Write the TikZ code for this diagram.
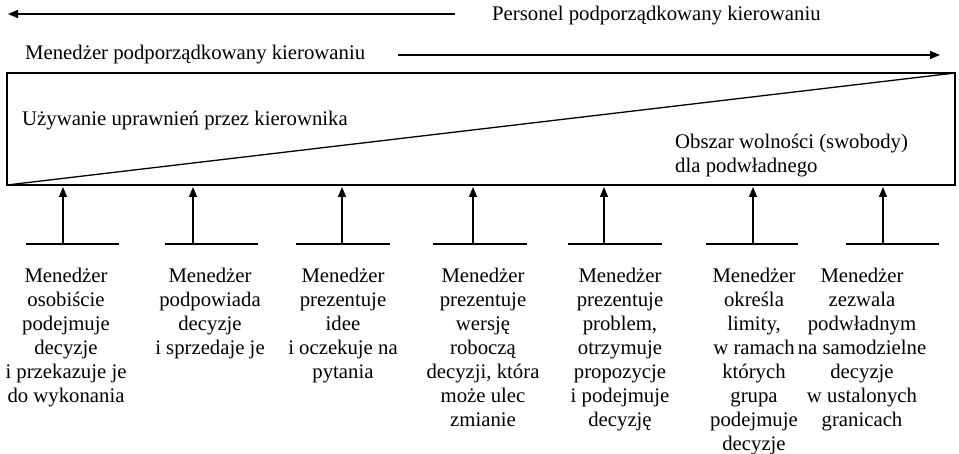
\documentclass[tikz,border=0pt]{standalone}
\usepackage{fontspec}
\setmainfont{Liberation Serif}
\usetikzlibrary{arrows.meta}
\begin{document}
\begin{tikzpicture}[x=1pt,y=-1pt,
  lbl/.style={inner sep=0pt,font=\fontsize{20.75}{24}\selectfont},
  col/.style={lbl,align=center,anchor=north},
  arr/.style={line width=1.3pt,-{Triangle[length=10pt,width=8pt]}},
  ln/.style={line width=1.3pt}]
\useasboundingbox (0,0) rectangle (959,454);
% top arrows and labels
\node[lbl,anchor=base west] (pers) at (492,21) {Personel podporządkowany kierowaniu};
\coordinate (a1s) at (455,14);
\coordinate (a1e) at (8,14);
\draw[arr] (a1s) -- (a1e);
\node[lbl,anchor=base west] (men) at (25,60) {Menedżer podporządkowany kierowaniu};
\coordinate (a2s) at (398,55);
\coordinate (a2e) at (940,55);
\draw[arr] (a2s) -- (a2e);
% rectangle
\coordinate (tl) at (7,73);
\coordinate (tr) at (955,73);
\coordinate (br) at (955,185);
\coordinate (bl) at (7,185);
\draw[ln] (tl) -- (tr) -- (br) -- (bl) -- cycle;
\draw[ln] (bl) -- (tr);
\node[lbl,anchor=base west] (uzyw) at (22,126) {Używanie uprawnień przez kierownika};
\node[lbl,anchor=north west,align=left] (obsz) at (675,133.5) {Obszar wolności (swobody)\\dla podwładnego};
% bottom arrows
\foreach \i/\ax/\la/\lb in {1/63/26/119, 2/193/165/258, 3/342/296/390, 4/473/433/527, 5/604/568/662, 6/753/706/798, 7/883/846/939}{
  \coordinate (bL\i) at (\la,244);
  \coordinate (bR\i) at (\lb,244);
  \coordinate (bA\i) at (\ax,244);
  \coordinate (bT\i) at (\ax,187);
  \draw[ln] (bL\i) -- (bR\i);
  \draw[arr] (bA\i) -- (bT\i);
}
% column texts
\node[col] (c1) at (66,267.8) {Menedżer\\osobiście\\podejmuje\\decyzje\\i przekazuje je\\do wykonania};
\node[col] (c2) at (210,267.8) {Menedżer\\podpowiada\\decyzje\\i sprzedaje je};
\node[col] (c3) at (343,267.8) {Menedżer\\prezentuje\\idee\\i oczekuje na\\pytania};
\node[col] (c4) at (483,267.8) {Menedżer\\prezentuje\\wersję\\roboczą\\decyzji, która\\może ulec\\zmianie};
\node[col] (c5) at (620,267.8) {Menedżer\\prezentuje\\problem,\\otrzymuje\\propozycje\\i podejmuje\\decyzję};
\node[col] (c6) at (754,267.8) {Menedżer\\określa\\limity,\\w ramach\\których\\grupa\\podejmuje\\decyzje};
\node[col] (c7) at (862,267.8) {Menedżer\\zezwala\\podwładnym\\na samodzielne\\decyzje\\w ustalonych\\granicach};
\end{tikzpicture}
\end{document}
